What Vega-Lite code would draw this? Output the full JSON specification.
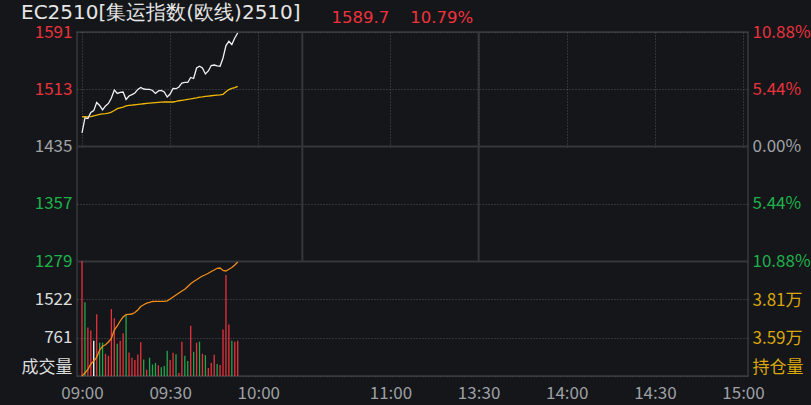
{
  "$schema": "https://vega.github.io/schema/vega-lite/v6.json",
  "autosize": {"type": "none"},
  "width": 671,
  "height": 344,
  "padding": {"left": 77, "top": 32, "right": 63, "bottom": 29},
  "background": "#14161a",
  "config": {
    "view": {"stroke": "#383a40", "strokeWidth": 1.5},
    "font": "Noto Sans CJK SC",
    "axis": {"labelFont": "Noto Sans CJK SC", "labelFontSize": 17, "domain": false, "ticks": false, "tickSize": 0, "labelFlush": false, "labelOverlap": false, "title": null}
  },
  "title": {"text": "EC2510[集运指数(欧线)2510]", "anchor": "start", "color": "#e6e6e6", "fontSize": 20, "font": "DejaVu Sans", "fontWeight": "normal", "offset": 5, "dy": 19},
  "data": {"values": [
    {"m":0,"p":1453.4,"a":1475.2,"v":2283,"oi":33700,"d":"u"},
    {"m":1,"p":1473.8,"a":1475.5,"v":1462,"oi":33874,"d":"d"},
    {"m":2,"p":1473.1,"a":1475.2,"v":961,"oi":34076,"d":"u"},
    {"m":3,"p":1481.3,"a":1475.6,"v":901,"oi":34395,"d":"u"},
    {"m":4,"p":1483.8,"a":1476.8,"v":701,"oi":34569,"d":"f"},
    {"m":5,"p":1494.9,"a":1477.6,"v":1228,"oi":34771,"d":"u"},
    {"m":6,"p":1490.9,"a":1478.6,"v":661,"oi":35205,"d":"d"},
    {"m":7,"p":1484.7,"a":1479.3,"v":661,"oi":35420,"d":"d"},
    {"m":8,"p":1490.2,"a":1479.8,"v":441,"oi":35512,"d":"u"},
    {"m":9,"p":1493.6,"a":1480.4,"v":401,"oi":35669,"d":"u"},
    {"m":10,"p":1501.1,"a":1481.7,"v":1329,"oi":35871,"d":"u"},
    {"m":11,"p":1512.0,"a":1484.0,"v":1148,"oi":36363,"d":"u"},
    {"m":12,"p":1507.2,"a":1486.5,"v":641,"oi":36595,"d":"d"},
    {"m":13,"p":1508.6,"a":1487.7,"v":701,"oi":36885,"d":"u"},
    {"m":14,"p":1509.2,"a":1488.7,"v":847,"oi":37116,"d":"u"},
    {"m":15,"p":1499.0,"a":1490.2,"v":1215,"oi":37255,"d":"d"},
    {"m":16,"p":1503.8,"a":1490.9,"v":467,"oi":37272,"d":"u"},
    {"m":17,"p":1505.6,"a":1491.4,"v":361,"oi":37290,"d":"u"},
    {"m":18,"p":1507.9,"a":1491.8,"v":320,"oi":37377,"d":"u"},
    {"m":19,"p":1512.7,"a":1492.4,"v":427,"oi":37521,"d":"u"},
    {"m":20,"p":1515.4,"a":1492.8,"v":668,"oi":37724,"d":"u"},
    {"m":21,"p":1513.3,"a":1493.2,"v":327,"oi":37828,"d":"d"},
    {"m":22,"p":1512.7,"a":1493.6,"v":127,"oi":37915,"d":"u"},
    {"m":23,"p":1512.9,"a":1494.0,"v":361,"oi":37956,"d":"d"},
    {"m":24,"p":1511.3,"a":1494.4,"v":227,"oi":38014,"d":"d"},
    {"m":25,"p":1507.2,"a":1494.8,"v":261,"oi":38025,"d":"d"},
    {"m":26,"p":1510.6,"a":1495.2,"v":214,"oi":38025,"d":"u"},
    {"m":27,"p":1511.3,"a":1495.5,"v":174,"oi":38025,"d":"d"},
    {"m":28,"p":1509.2,"a":1495.6,"v":200,"oi":38025,"d":"d"},
    {"m":29,"p":1502.4,"a":1495.6,"v":500,"oi":38054,"d":"d"},
    {"m":30,"p":1506.5,"a":1495.6,"v":320,"oi":38158,"d":"u"},
    {"m":31,"p":1514.0,"a":1495.6,"v":460,"oi":38274,"d":"u"},
    {"m":32,"p":1513.7,"a":1496.4,"v":434,"oi":38390,"d":"d"},
    {"m":33,"p":1516.1,"a":1497.3,"v":60,"oi":38506,"d":"u"},
    {"m":34,"p":1521.5,"a":1497.9,"v":681,"oi":38622,"d":"u"},
    {"m":35,"p":1522.2,"a":1498.5,"v":400,"oi":38720,"d":"d"},
    {"m":36,"p":1522.2,"a":1499.2,"v":300,"oi":38882,"d":"d"},
    {"m":37,"p":1529.0,"a":1499.8,"v":1000,"oi":39044,"d":"u"},
    {"m":38,"p":1527.6,"a":1500.5,"v":480,"oi":39172,"d":"d"},
    {"m":39,"p":1541.9,"a":1501.2,"v":661,"oi":39270,"d":"u"},
    {"m":40,"p":1544.3,"a":1502.2,"v":681,"oi":39392,"d":"d"},
    {"m":41,"p":1541.9,"a":1502.7,"v":441,"oi":39490,"d":"u"},
    {"m":42,"p":1533.8,"a":1503.3,"v":414,"oi":39560,"d":"d"},
    {"m":43,"p":1537.9,"a":1503.7,"v":160,"oi":39646,"d":"u"},
    {"m":44,"p":1545.3,"a":1504.1,"v":260,"oi":39751,"d":"u"},
    {"m":45,"p":1546.0,"a":1504.5,"v":420,"oi":39837,"d":"u"},
    {"m":46,"p":1544.7,"a":1504.9,"v":240,"oi":39936,"d":"d"},
    {"m":47,"p":1544.3,"a":1505.3,"v":220,"oi":39953,"d":"u"},
    {"m":48,"p":1555.6,"a":1506.0,"v":921,"oi":39808,"d":"u"},
    {"m":49,"p":1572.6,"a":1509.5,"v":2003,"oi":39780,"d":"u"},
    {"m":50,"p":1578.3,"a":1512.5,"v":1021,"oi":39878,"d":"u"},
    {"m":51,"p":1574.0,"a":1514.0,"v":701,"oi":39982,"d":"d"},
    {"m":52,"p":1582.8,"a":1515.2,"v":681,"oi":40127,"d":"u"},
    {"m":53,"p":1589.7,"a":1516.9,"v":701,"oi":40301,"d":"u"}
  ]},
  "resolve": {"scale": {"y": "independent"}, "axis": {"x": "independent", "y": "independent"}},
  "layer": [
    {
      "data": {"values": [{"m": 75}, {"m": 135}]},
      "mark": {"type": "rule", "color": "#35373c", "strokeWidth": 2},
      "encoding": {
        "x": {"field": "m", "type": "quantitative", "scale": {"domain": [0, 225], "nice": false, "zero": false},
          "axis": {"orient": "top", "labels": false, "grid": false, "title": "1589.7\u00a0\u00a0\u00a0\u00a010.79%", "titleColor": "#f0323c", "titleFont": "DejaVu Sans", "titleFontSize": 16.5, "titleFontWeight": "normal", "titleAnchor": "start", "titleAlign": "left", "titleBaseline": "middle", "titleX": 254, "titleY": -15}},
        "y": {"datum": 1278.78, "type": "quantitative", "scale": {"domain": [1278.78, 1591.02], "range": [229, 0], "nice": false, "zero": false}, "axis": null},
        "y2": {"datum": 1591.02}
      }
    },
    {
      "mark": {"type": "bar", "width": 1.3},
      "encoding": {
        "x": {"field": "m", "type": "quantitative", "scale": {"domain": [0, 225], "nice": false, "zero": false},
          "axis": {"orient": "bottom", "values": [0, 30, 60, 75, 105, 135, 165, 195, 225], "labelExpr": "datum.value==0?'09:00':datum.value==30?'09:30':datum.value==60?'10:00':datum.value==105?'11:00':datum.value==135?'13:30':datum.value==165?'14:00':datum.value==195?'14:30':datum.value==225?'15:00':''", "labelColor": "#9ea0a4", "labelPadding": 9, "grid": true, "gridColor": "#50535a", "gridDash": [1, 2], "gridWidth": 1}},
        "y": {"field": "v", "type": "quantitative", "scale": {"domain": [0, 2283], "range": [344, 229], "nice": false, "zero": true},
          "axis": {"orient": "left", "values": [0, 761, 1522], "labelExpr": "datum.value==0?'成交量':datum.label", "format": "d", "labelColor": "#dcdcdc", "labelPadding": 5, "labelBaseline": {"condition": {"test": "datum.value==0", "value": "bottom"}, "value": "middle"}, "grid": true, "gridColor": "#50535a", "gridDash": [1, 2], "gridWidth": 1}},
        "color": {"field": "d", "type": "nominal", "scale": {"domain": ["u", "d", "f"], "range": ["#e8323c", "#1fa84a", "#ffffff"]}, "legend": null}
      }
    },
    {
      "mark": {"type": "line", "color": "#f08c1a", "strokeWidth": 1.3},
      "encoding": {
        "x": {"field": "m", "type": "quantitative", "scale": {"domain": [0, 225], "nice": false, "zero": false}, "axis": null},
        "y": {"field": "oi", "type": "quantitative", "scale": {"domain": [33700, 40358], "range": [344, 229], "nice": false, "zero": false},
          "axis": {"orient": "right", "values": [33700, 35900, 38100], "labelExpr": "datum.value<34000?'持仓量':format(datum.value/10000,'.2f')+'万'", "labelColor": "#d9a70b", "labelPadding": 4, "labelBaseline": {"condition": {"test": "datum.value<34000", "value": "bottom"}, "value": "middle"}, "grid": false}}
      }
    },
    {
      "mark": {"type": "line", "color": "#f2b705", "strokeWidth": 1.3},
      "encoding": {
        "x": {"field": "m", "type": "quantitative", "scale": {"domain": [0, 225], "nice": false, "zero": false}, "axis": null},
        "y": {"field": "a", "type": "quantitative", "scale": {"domain": [1278.78, 1591.02], "range": [229, 0], "nice": false, "zero": false},
          "axis": {"orient": "right", "values": [1278.78, 1356.84, 1434.9, 1512.96, 1591.02], "labelExpr": "format(abs(datum.value-1434.9)/1434.9*100,'.2f')+'%'", "labelPadding": 4, "grid": false,
            "labelColor": {"condition": [{"test": "datum.value>1436", "value": "#e8323c"}, {"test": "datum.value<1434", "value": "#1fb04a"}], "value": "#a0a2a6"}}}
      }
    },
    {
      "mark": {"type": "line", "color": "#f2f2f2", "strokeWidth": 1.3},
      "encoding": {
        "x": {"field": "m", "type": "quantitative", "scale": {"domain": [0, 225], "nice": false, "zero": false}, "axis": null},
        "y": {"field": "p", "type": "quantitative", "scale": {"domain": [1278.78, 1591.02], "range": [229, 0], "nice": false, "zero": false},
          "axis": {"orient": "left", "values": [1278.78, 1356.84, 1434.9, 1512.96, 1591.02], "format": ".0f", "labelPadding": 5, "grid": true, "gridColor": {"condition": {"test": "abs(datum.value-1434.9)<1 || datum.value<1280", "value": "#35373c"}, "value": "#50535a"}, "gridDash": {"condition": {"test": "abs(datum.value-1434.9)<1 || datum.value<1280", "value": []}, "value": [1, 2]}, "gridWidth": {"condition": {"test": "abs(datum.value-1434.9)<1 || datum.value<1280", "value": 2}, "value": 1},
            "labelColor": {"condition": [{"test": "datum.value>1436", "value": "#e8323c"}, {"test": "datum.value<1434", "value": "#1fb04a"}], "value": "#a0a2a6"}}}
      }
    }
  ]
}
